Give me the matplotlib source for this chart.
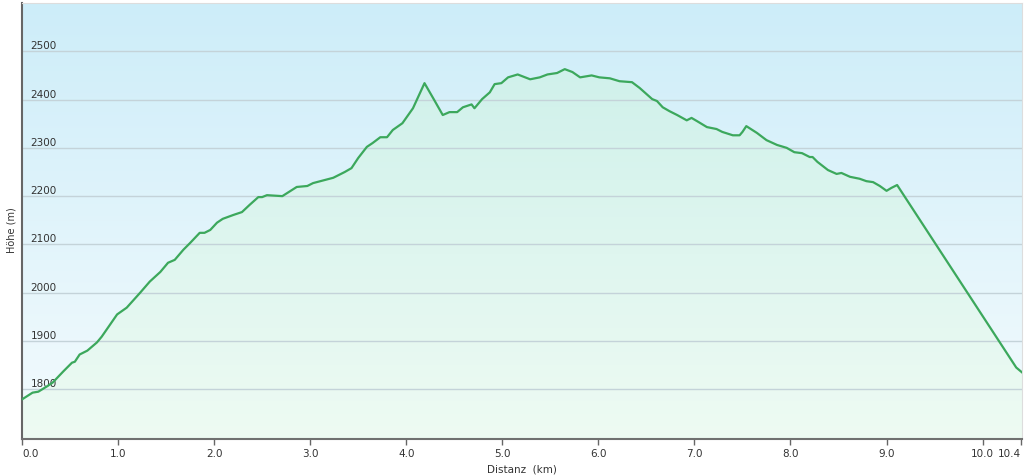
import numpy as np
import matplotlib
matplotlib.use('Agg')
import matplotlib.pyplot as plt
from matplotlib.colors import LinearSegmentedColormap

# Elevation profile: distance (km) and elevation (m)
distance_km = [0.00, 0.11, 0.17, 0.26, 0.32, 0.43, 0.52, 0.55, 0.60, 0.68,
               0.78, 0.83, 0.99, 1.09, 1.23, 1.33, 1.44, 1.52, 1.59, 1.68,
               1.75, 1.85, 1.90, 1.96, 2.03, 2.09, 2.20, 2.29, 2.37, 2.46,
               2.50, 2.55, 2.71, 2.86, 2.97, 3.03, 3.24, 3.36, 3.43, 3.50,
               3.59, 3.65, 3.73, 3.80, 3.86, 3.96, 4.07, 4.19, 4.28, 4.38,
               4.45, 4.53, 4.59, 4.68, 4.71, 4.79, 4.87, 4.92, 4.99, 5.06,
               5.16, 5.29, 5.39, 5.47, 5.57, 5.65, 5.73, 5.81, 5.93, 6.01,
               6.12, 6.22, 6.35, 6.43, 6.56, 6.61, 6.67, 6.74, 6.82, 6.92,
               6.97, 7.03, 7.13, 7.23, 7.29, 7.40, 7.47, 7.50, 7.54, 7.65,
               7.75, 7.86, 7.96, 8.04, 8.12, 8.20, 8.23, 8.28, 8.39, 8.48,
               8.53, 8.62, 8.72, 8.79, 8.86, 8.93, 9.00, 9.05, 9.11, 10.35,
               10.41]
elevation_m = [1779, 1793, 1795, 1806, 1814, 1837, 1855, 1857, 1872, 1880,
               1897, 1909, 1955, 1969, 2000, 2023, 2043, 2062, 2068, 2089,
               2103, 2124, 2124, 2130, 2145, 2153, 2161, 2167, 2182, 2198,
               2198, 2202, 2200, 2219, 2221, 2227, 2238, 2250, 2258, 2279,
               2302, 2310, 2322, 2322, 2337, 2351, 2382, 2434, 2403, 2368,
               2374, 2374, 2384, 2390, 2382, 2401, 2415, 2432, 2434, 2446,
               2452, 2442, 2446, 2452, 2455, 2463, 2457, 2446, 2450, 2446,
               2444, 2438, 2436, 2424, 2401, 2397, 2384, 2376, 2368, 2357,
               2362, 2355, 2343, 2339, 2333, 2326, 2326, 2333, 2345, 2331,
               2316, 2306, 2300, 2291, 2289, 2281, 2281, 2271, 2254, 2246,
               2248, 2240, 2236, 2231, 2229, 2221, 2211, 2217, 2223, 1845,
               1835]

x_ticks = [0, 1, 2, 3, 4, 5, 6, 7, 8, 9, 10, 10.4]
x_tick_labels = ['0.0', '1.0', '2.0', '3.0', '4.0', '5.0', '6.0', '7.0',
                 '8.0', '9.0', '10.0', '10.4']
y_ticks = [1800, 1900, 2000, 2100, 2200, 2300, 2400, 2500]

x_min, x_max = 0, 10.41
y_min, y_max = 1697, 2600

fig = plt.figure(figsize=(10.24, 4.76), dpi=100)
ax = fig.add_axes([22 / 1024, 1 - 439 / 476, 1000 / 1024, 436 / 476])

# sky gradient behind the whole plot
sky = LinearSegmentedColormap.from_list('sky', ['#f4fbfd', '#cdedf9'])
grad = np.linspace(0, 1, 256).reshape(-1, 1)
ax.imshow(grad, cmap=sky, aspect='auto', origin='lower',
          extent=[x_min, x_max, y_min, y_max], zorder=0)

# green gradient under the profile, clipped to the filled area
green = LinearSegmentedColormap.from_list('green', ['#eefbf3', '#d0f1eb'])
poly = ax.fill_between(distance_km, elevation_m, y_min, color='none', zorder=1)
img = ax.imshow(grad, cmap=green, aspect='auto', origin='lower',
                extent=[x_min, x_max, y_min, max(elevation_m)], zorder=1)
img.set_clip_path(poly.get_paths()[0], transform=ax.transData)

ax.plot(distance_km, elevation_m, color='#3ca85c', linewidth=1.6, zorder=3)

for y in y_ticks:
    ax.axhline(y, color='#c4d3d9', linewidth=1.0, zorder=2)

ax.set_xlim(x_min, x_max)
ax.set_ylim(y_min, y_max)

ax.set_xticks(x_ticks)
ax.set_xticklabels(x_tick_labels)
ax.set_yticks(y_ticks)
ax.set_yticklabels([str(v) for v in y_ticks])

ax.tick_params(axis='x', direction='out', length=4, width=1, color='#666666',
               labelsize=7.5, labelcolor='#333333', pad=3)
ax.tick_params(axis='y', length=0, pad=-6, labelsize=7.5, labelcolor='#333333')
for lbl in ax.get_yticklabels():
    lbl.set_horizontalalignment('left')
    lbl.set_verticalalignment('bottom')
    lbl.set_zorder(4)

# first and last distance labels are kept inside the plot width
xlabels = ax.get_xticklabels()
xlabels[0].set_horizontalalignment('left')
xlabels[-1].set_horizontalalignment('right')

ax.spines['left'].set_color('#666666')
ax.spines['left'].set_linewidth(1.5)
ax.spines['bottom'].set_color('#707070')
ax.spines['bottom'].set_linewidth(1.5)
ax.spines['top'].set_color('#dddddd')
ax.spines['right'].set_color('#dddddd')

ax.set_xlabel('Distanz  (km)', fontsize=7.5, color='#333333', labelpad=4)
fig.text(12 / 1024, 1 - 230 / 476, 'Höhe (m)', rotation=90, fontsize=7,
         color='#333333', ha='center', va='center')

plt.savefig('out.png', dpi=100)
